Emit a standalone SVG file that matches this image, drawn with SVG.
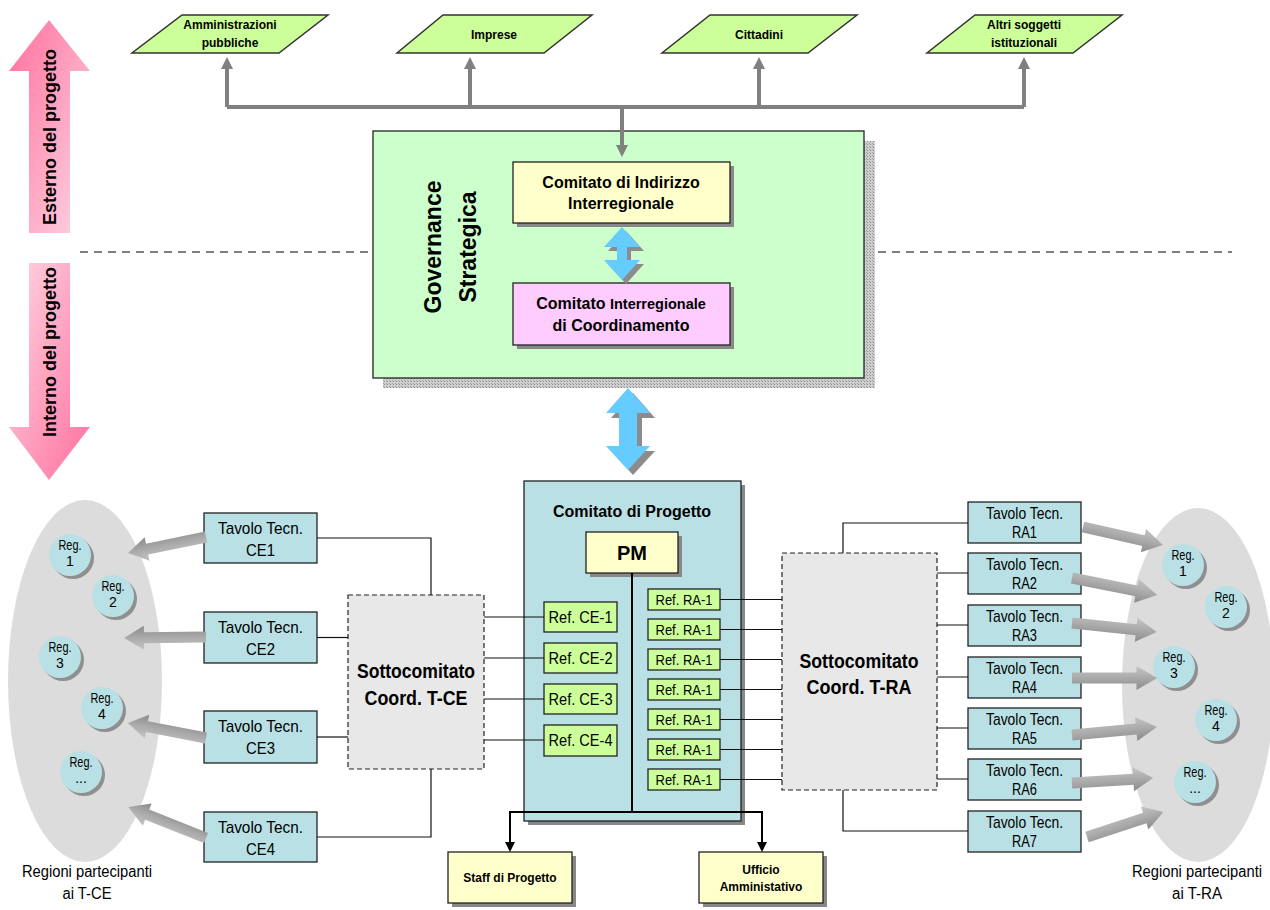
<svg xmlns="http://www.w3.org/2000/svg" width="1270" height="910" viewBox="0 0 1270 910">
<style>
text{font-family:"Liberation Sans",Arial,sans-serif;fill:#000}
.b{font-weight:bold}
.para{fill:#ccff99;stroke:#333;stroke-width:1.5}
.shadow{fill:#888}
.yel{fill:#ffffcc;stroke:#222;stroke-width:1.3}
.pink{fill:#ffccff;stroke:#222;stroke-width:1.3}
.teal{fill:#b9e0e4;stroke:#222;stroke-width:1.3}
.ref{fill:#ccff99;stroke:#222;stroke-width:1.3}
.sub{fill:#e8e8e8;stroke:#222;stroke-width:1.2;stroke-dasharray:5 3}
.ell{fill:#dcdcdc}
.reg{fill:#b9e0e4}
.regsh{fill:#8f8f8f}
.thin{fill:none;stroke:#111;stroke-width:1.2}
.blk{fill:none;stroke:#000;stroke-width:2}
.gray{fill:none;stroke:#808080;stroke-width:4}
.blue{fill:#66ccff}
.bsh{fill:#8c8c8c}
.fat{fill:url(#fatg)}
.tv{font-size:17px;text-anchor:middle}
.rg{font-size:14px;text-anchor:middle}
.lbl{font-size:16px;text-anchor:middle}
</style>
<defs>
<linearGradient id="pinkUp" x1="0" y1="0" x2="1" y2="1">
<stop offset="0" stop-color="#ff6f9c"/><stop offset="1" stop-color="#ffd6e4"/>
</linearGradient>
<linearGradient id="pinkDown" x1="0" y1="0" x2="1" y2="1">
<stop offset="0" stop-color="#ffd6e4"/><stop offset="1" stop-color="#ff6f9c"/>
</linearGradient>
<linearGradient id="fatg" x1="0" y1="0" x2="0" y2="1">
<stop offset="0" stop-color="#c4c4c4"/><stop offset="0.5" stop-color="#aaaaaa"/><stop offset="1" stop-color="#8a8a8a"/>
</linearGradient>
<pattern id="hatch" width="3" height="3" patternUnits="userSpaceOnUse">
<rect width="3" height="3" fill="#cfcfcf"/><rect width="1" height="1" fill="#8a8a8a"/><rect x="2" y="2" width="1" height="1" fill="#a0a0a0"/>
</pattern>
<marker id="gArrow" viewBox="0 0 12 12" refX="0" refY="6" markerWidth="12" markerHeight="12" markerUnits="userSpaceOnUse" orient="auto">
<path d="M0,0 L12,6 L0,12 Z" fill="#808080"/>
</marker>
<marker id="bArrow" viewBox="0 0 10 10" refX="0" refY="5" markerWidth="10" markerHeight="10" markerUnits="userSpaceOnUse" orient="auto">
<path d="M0,0 L10,5 L0,10 Z" fill="#000"/>
</marker>
<path id="fatArrow" d="M0,-5.5 L62,-5.5 L62,-12 L82,0 L62,12 L62,5.5 L0,5.5 Z"/>
</defs>

<!-- background -->
<line x1="80" y1="252" x2="1232" y2="252" stroke="#000" stroke-width="1" stroke-dasharray="8 6"/>

<g id="esterno">
<polygon points="49,20 90,71 70,71 70,233 29,233 29,71 9,71" fill="url(#pinkUp)"/>
<text class="b" font-size="18" text-anchor="middle" transform="translate(56,137) rotate(-90)">Esterno del progetto</text>
</g>
<g id="interno">
<polygon points="29,263 70,263 70,427 90,427 49,480 9,427 29,427" fill="url(#pinkDown)"/>
<text class="b" font-size="18" text-anchor="middle" transform="translate(56,352) rotate(-90)">Interno del progetto</text>
</g>

<!-- top parallelograms -->
<g id="amministrazioni">
<polygon class="para" points="182,15 328,15 279,53 132,53"/>
<text class="b" font-size="12" text-anchor="middle" x="230" y="29">Amministrazioni</text>
<text class="b" font-size="12" text-anchor="middle" x="230" y="47">pubbliche</text>
</g>
<g id="imprese">
<polygon class="para" points="443,15 592,15 544,53 397,53"/>
<text class="b" font-size="12" text-anchor="middle" x="494" y="39">Imprese</text>
</g>
<g id="cittadini">
<polygon class="para" points="710,15 857,15 808,53 662,53"/>
<text class="b" font-size="12" text-anchor="middle" x="759" y="39">Cittadini</text>
</g>
<g id="altri">
<polygon class="para" points="975,15 1122,15 1073,53 927,53"/>
<text class="b" font-size="12" text-anchor="middle" x="1024" y="29">Altri soggetti</text>
<text class="b" font-size="12" text-anchor="middle" x="1024" y="47">istituzionali</text>
</g>

<!-- governance -->
<g id="governance">
<rect x="383" y="141" width="492" height="247" fill="url(#hatch)"/>
<rect x="373" y="131" width="491" height="247" fill="#ccffcc" stroke="#222" stroke-width="1.3"/>
<text class="b" font-size="23" text-anchor="middle" transform="translate(441,247) rotate(-90)">Governance</text>
<text class="b" font-size="23" text-anchor="middle" transform="translate(476,247) rotate(-90)">Strategica</text>
</g>
<g id="indirizzo">
<rect class="shadow" x="517" y="166" width="217" height="61"/>
<rect class="yel" x="513" y="162" width="217" height="61"/>
<text class="b" font-size="16" text-anchor="middle" x="621" y="188">Comitato di Indirizzo</text>
<text class="b" font-size="16" text-anchor="middle" x="621" y="209">Interregionale</text>
</g>
<g id="coordinamento">
<rect class="shadow" x="517" y="287" width="217" height="62"/>
<rect class="pink" x="513" y="283" width="217" height="62"/>
<text class="b" font-size="16" text-anchor="middle" x="621" y="309">Comitato <tspan font-size="14.5">Interregionale</tspan></text>
<text class="b" font-size="16" text-anchor="middle" x="621" y="331">di Coordinamento</text>
</g>

<!-- ellipses -->
<g id="regioni-ce">
<ellipse class="ell" cx="85" cy="681" rx="77" ry="181"/>
<text class="lbl" x="87" y="877" textLength="130" lengthAdjust="spacingAndGlyphs">Regioni partecipanti</text>
<text class="lbl" x="87" y="899" textLength="49" lengthAdjust="spacingAndGlyphs">ai T-CE</text>
</g>
<g id="regioni-ra">
<ellipse class="ell" cx="1198" cy="685" rx="76" ry="177"/>
<text class="lbl" x="1197" y="877" textLength="130" lengthAdjust="spacingAndGlyphs">Regioni partecipanti</text>
<text class="lbl" x="1197" y="899" textLength="50" lengthAdjust="spacingAndGlyphs">ai T-RA</text>
</g>

<!-- region circles left -->
<g id="reg-ce-1"><circle class="regsh" cx="73" cy="558" r="21"/><circle class="reg" cx="70" cy="555" r="21"/><text class="rg" x="70" y="550" textLength="23" lengthAdjust="spacingAndGlyphs">Reg.</text><text class="rg" x="70" y="566">1</text></g>
<g id="reg-ce-2"><circle class="regsh" cx="116" cy="599" r="21"/><circle class="reg" cx="113" cy="596" r="21"/><text class="rg" x="113" y="591" textLength="23" lengthAdjust="spacingAndGlyphs">Reg.</text><text class="rg" x="113" y="607">2</text></g>
<g id="reg-ce-3"><circle class="regsh" cx="63" cy="660" r="21"/><circle class="reg" cx="60" cy="657" r="21"/><text class="rg" x="60" y="652" textLength="23" lengthAdjust="spacingAndGlyphs">Reg.</text><text class="rg" x="60" y="668">3</text></g>
<g id="reg-ce-4"><circle class="regsh" cx="105" cy="711" r="21"/><circle class="reg" cx="102" cy="708" r="21"/><text class="rg" x="102" y="703" textLength="23" lengthAdjust="spacingAndGlyphs">Reg.</text><text class="rg" x="102" y="719">4</text></g>
<g id="reg-ce-n"><circle class="regsh" cx="84" cy="775" r="21"/><circle class="reg" cx="81" cy="772" r="21"/><text class="rg" x="81" y="767" textLength="23" lengthAdjust="spacingAndGlyphs">Reg.</text><text class="rg" x="81" y="783">...</text></g>

<!-- region circles right -->
<g id="reg-ra-1"><circle class="regsh" cx="1186" cy="568" r="21"/><circle class="reg" cx="1183" cy="565" r="21"/><text class="rg" x="1183" y="560" textLength="23" lengthAdjust="spacingAndGlyphs">Reg.</text><text class="rg" x="1183" y="576">1</text></g>
<g id="reg-ra-2"><circle class="regsh" cx="1229" cy="610" r="21"/><circle class="reg" cx="1226" cy="607" r="21"/><text class="rg" x="1226" y="602" textLength="23" lengthAdjust="spacingAndGlyphs">Reg.</text><text class="rg" x="1226" y="618">2</text></g>
<g id="reg-ra-3"><circle class="regsh" cx="1177" cy="670" r="21"/><circle class="reg" cx="1174" cy="667" r="21"/><text class="rg" x="1174" y="662" textLength="23" lengthAdjust="spacingAndGlyphs">Reg.</text><text class="rg" x="1174" y="678">3</text></g>
<g id="reg-ra-4"><circle class="regsh" cx="1219" cy="723" r="21"/><circle class="reg" cx="1216" cy="720" r="21"/><text class="rg" x="1216" y="715" textLength="23" lengthAdjust="spacingAndGlyphs">Reg.</text><text class="rg" x="1216" y="731">4</text></g>
<g id="reg-ra-n"><circle class="regsh" cx="1198" cy="785" r="21"/><circle class="reg" cx="1195" cy="782" r="21"/><text class="rg" x="1195" y="777" textLength="23" lengthAdjust="spacingAndGlyphs">Reg.</text><text class="rg" x="1195" y="793">...</text></g>

<!-- Tavolo CE -->
<g id="tavolo-ce1"><rect class="teal" x="204" y="513" width="113" height="50"/><text class="tv" x="260.5" y="534" textLength="85" lengthAdjust="spacingAndGlyphs">Tavolo Tecn.</text><text class="tv" x="260.5" y="556" textLength="29" lengthAdjust="spacingAndGlyphs">CE1</text></g>
<g id="tavolo-ce2"><rect class="teal" x="204" y="612" width="113" height="51"/><text class="tv" x="260.5" y="633" textLength="85" lengthAdjust="spacingAndGlyphs">Tavolo Tecn.</text><text class="tv" x="260.5" y="655" textLength="29" lengthAdjust="spacingAndGlyphs">CE2</text></g>
<g id="tavolo-ce3"><rect class="teal" x="204" y="711" width="113" height="52"/><text class="tv" x="260.5" y="732" textLength="85" lengthAdjust="spacingAndGlyphs">Tavolo Tecn.</text><text class="tv" x="260.5" y="754" textLength="29" lengthAdjust="spacingAndGlyphs">CE3</text></g>
<g id="tavolo-ce4"><rect class="teal" x="204" y="812" width="113" height="50"/><text class="tv" x="260.5" y="833" textLength="85" lengthAdjust="spacingAndGlyphs">Tavolo Tecn.</text><text class="tv" x="260.5" y="855" textLength="29" lengthAdjust="spacingAndGlyphs">CE4</text></g>

<!-- Tavolo RA -->
<g id="tavolo-ra1"><rect class="teal" x="968" y="502" width="113" height="41"/><text class="tv" x="1024.5" y="519" textLength="77" lengthAdjust="spacingAndGlyphs">Tavolo Tecn.</text><text class="tv" x="1024.5" y="538" textLength="25" lengthAdjust="spacingAndGlyphs">RA1</text></g>
<g id="tavolo-ra2"><rect class="teal" x="968" y="553" width="113" height="41"/><text class="tv" x="1024.5" y="570" textLength="77" lengthAdjust="spacingAndGlyphs">Tavolo Tecn.</text><text class="tv" x="1024.5" y="589" textLength="25" lengthAdjust="spacingAndGlyphs">RA2</text></g>
<g id="tavolo-ra3"><rect class="teal" x="968" y="605" width="113" height="41"/><text class="tv" x="1024.5" y="622" textLength="77" lengthAdjust="spacingAndGlyphs">Tavolo Tecn.</text><text class="tv" x="1024.5" y="641" textLength="25" lengthAdjust="spacingAndGlyphs">RA3</text></g>
<g id="tavolo-ra4"><rect class="teal" x="968" y="657" width="113" height="41"/><text class="tv" x="1024.5" y="674" textLength="77" lengthAdjust="spacingAndGlyphs">Tavolo Tecn.</text><text class="tv" x="1024.5" y="693" textLength="25" lengthAdjust="spacingAndGlyphs">RA4</text></g>
<g id="tavolo-ra5"><rect class="teal" x="968" y="708" width="113" height="41"/><text class="tv" x="1024.5" y="725" textLength="77" lengthAdjust="spacingAndGlyphs">Tavolo Tecn.</text><text class="tv" x="1024.5" y="744" textLength="25" lengthAdjust="spacingAndGlyphs">RA5</text></g>
<g id="tavolo-ra6"><rect class="teal" x="968" y="759" width="113" height="41"/><text class="tv" x="1024.5" y="776" textLength="77" lengthAdjust="spacingAndGlyphs">Tavolo Tecn.</text><text class="tv" x="1024.5" y="795" textLength="25" lengthAdjust="spacingAndGlyphs">RA6</text></g>
<g id="tavolo-ra7"><rect class="teal" x="968" y="811" width="113" height="41"/><text class="tv" x="1024.5" y="828" textLength="77" lengthAdjust="spacingAndGlyphs">Tavolo Tecn.</text><text class="tv" x="1024.5" y="847" textLength="25" lengthAdjust="spacingAndGlyphs">RA7</text></g>

<!-- Sottocomitati -->
<g id="sotto-ce"><rect class="sub" x="348" y="595" width="136" height="174"/>
<text class="b" font-size="20" text-anchor="middle" x="416" y="678" textLength="118" lengthAdjust="spacingAndGlyphs">Sottocomitato</text>
<text class="b" font-size="20" text-anchor="middle" x="416" y="705" textLength="103" lengthAdjust="spacingAndGlyphs">Coord. T-CE</text></g>
<g id="sotto-ra"><rect class="sub" x="782" y="553" width="155" height="237"/>
<text class="b" font-size="20" text-anchor="middle" x="859" y="668" textLength="119" lengthAdjust="spacingAndGlyphs">Sottocomitato</text>
<text class="b" font-size="20" text-anchor="middle" x="859" y="694" textLength="105" lengthAdjust="spacingAndGlyphs">Coord. T-RA</text></g>

<!-- Comitato di Progetto -->
<g id="comitato-progetto">
<rect class="shadow" x="528" y="485" width="217" height="340"/>
<rect class="teal" x="524" y="481" width="217" height="340"/>
<text class="b" font-size="16" text-anchor="middle" x="632" y="517">Comitato di Progetto</text>
</g>
<g id="pm"><rect class="shadow" x="590" y="536" width="92" height="41"/><rect class="yel" x="586" y="532" width="92" height="41"/><text class="b" font-size="20" text-anchor="middle" x="632" y="560">PM</text></g>

<g id="ref-ce-1"><rect class="ref" x="544" y="602" width="73" height="30"/><text font-size="16" text-anchor="middle" x="580.5" y="623" textLength="64" lengthAdjust="spacingAndGlyphs">Ref. CE-1</text></g>
<g id="ref-ce-2"><rect class="ref" x="544" y="643" width="73" height="30"/><text font-size="16" text-anchor="middle" x="580.5" y="664" textLength="64" lengthAdjust="spacingAndGlyphs">Ref. CE-2</text></g>
<g id="ref-ce-3"><rect class="ref" x="544" y="684" width="73" height="30"/><text font-size="16" text-anchor="middle" x="580.5" y="705" textLength="64" lengthAdjust="spacingAndGlyphs">Ref. CE-3</text></g>
<g id="ref-ce-4"><rect class="ref" x="544" y="725" width="73" height="31"/><text font-size="16" text-anchor="middle" x="580.5" y="746" textLength="64" lengthAdjust="spacingAndGlyphs">Ref. CE-4</text></g>

<g id="ref-ra-a"><rect class="ref" x="648" y="589" width="72" height="21"/><text font-size="15" text-anchor="middle" x="684" y="605" textLength="57" lengthAdjust="spacingAndGlyphs">Ref. RA-1</text></g>
<g id="ref-ra-b"><rect class="ref" x="648" y="619" width="72" height="21"/><text font-size="15" text-anchor="middle" x="684" y="635" textLength="57" lengthAdjust="spacingAndGlyphs">Ref. RA-1</text></g>
<g id="ref-ra-c"><rect class="ref" x="648" y="649" width="72" height="21"/><text font-size="15" text-anchor="middle" x="684" y="665" textLength="57" lengthAdjust="spacingAndGlyphs">Ref. RA-1</text></g>
<g id="ref-ra-d"><rect class="ref" x="648" y="679" width="72" height="21"/><text font-size="15" text-anchor="middle" x="684" y="695" textLength="57" lengthAdjust="spacingAndGlyphs">Ref. RA-1</text></g>
<g id="ref-ra-e"><rect class="ref" x="648" y="709" width="72" height="21"/><text font-size="15" text-anchor="middle" x="684" y="725" textLength="57" lengthAdjust="spacingAndGlyphs">Ref. RA-1</text></g>
<g id="ref-ra-f"><rect class="ref" x="648" y="739" width="72" height="21"/><text font-size="15" text-anchor="middle" x="684" y="755" textLength="57" lengthAdjust="spacingAndGlyphs">Ref. RA-1</text></g>
<g id="ref-ra-g"><rect class="ref" x="648" y="769" width="72" height="21"/><text font-size="15" text-anchor="middle" x="684" y="785" textLength="57" lengthAdjust="spacingAndGlyphs">Ref. RA-1</text></g>

<g id="staff"><rect class="shadow" x="452" y="856" width="124" height="51"/><rect class="yel" x="448" y="852" width="124" height="51"/><text class="b" font-size="12" text-anchor="middle" x="510" y="882">Staff di Progetto</text></g>
<g id="ufficio"><rect class="shadow" x="703" y="856" width="124" height="51"/><rect class="yel" x="699" y="852" width="124" height="51"/><text class="b" font-size="12" text-anchor="middle" x="761" y="874">Ufficio</text><text class="b" font-size="12" text-anchor="middle" x="761" y="891">Amministativo</text></g>

<!-- connectors -->
<g id="connectors">
<path class="gray" d="M227,107 H1024"/>
<path class="gray" d="M227,107 V69" marker-end="url(#gArrow)"/>
<path class="gray" d="M470,107 V69" marker-end="url(#gArrow)"/>
<path class="gray" d="M759,107 V69" marker-end="url(#gArrow)"/>
<path class="gray" d="M1024,107 V69" marker-end="url(#gArrow)"/>
<path class="gray" d="M622,105 V145" marker-end="url(#gArrow)"/>

<!-- blue double arrows -->
<polygon class="bsh" transform="translate(4,4)" points="622,227 640,247 627,247 627,260 640,260 622,280 604,260 617,260 617,247 604,247"/>
<polygon class="blue" points="622,227 640,247 627,247 627,260 640,260 622,280 604,260 617,260 617,247 604,247"/>
<polygon class="bsh" transform="translate(5,5)" points="628,388 650,413 637,413 637,446 650,446 628,470 606,446 619,446 619,413 606,413"/>
<polygon class="blue" points="628,388 650,413 637,413 637,446 650,446 628,470 606,446 619,446 619,413 606,413"/>

<!-- thin lines -->
<path class="thin" d="M317,538 H431 V595"/>
<path class="thin" d="M317,637.5 H348"/>
<path class="thin" d="M317,737 H348"/>
<path class="thin" d="M317,837 H431 V769"/>
<path class="thin" d="M484,617 H544 M484,658 H544 M484,699 H544 M484,740 H544"/>
<path class="thin" d="M720,599.5 H782 M720,629.5 H782 M720,659.5 H782 M720,689.5 H782 M720,719.5 H782 M720,749.5 H782 M720,779.5 H782"/>
<path class="thin" d="M968,523 H843 V553"/>
<path class="thin" d="M937,573 H968 M937,625 H968 M937,677 H968 M937,728 H968 M937,779 H968"/>
<path class="thin" d="M968,831 H843 V790"/>

<!-- PM to staff/ufficio -->
<path class="blk" d="M632,573 V812 M509,812 H763"/>
<path class="blk" d="M510,811 V842" marker-end="url(#bArrow)"/>
<path class="blk" d="M762,811 V842" marker-end="url(#bArrow)"/>

<!-- fat gray arrows -->
<use href="#fatArrow" class="fat" transform="translate(206,537) rotate(168.4) scale(0.97,1)"/>
<use href="#fatArrow" class="fat" transform="translate(206,637) rotate(179.3)"/>
<use href="#fatArrow" class="fat" transform="translate(206,738) rotate(190.9) scale(0.97,1)"/>
<use href="#fatArrow" class="fat" transform="translate(206,838) rotate(201.7) scale(1.02,1)"/>
<use href="#fatArrow" class="fat" transform="translate(1083,527) rotate(12.7)"/>
<use href="#fatArrow" class="fat" transform="translate(1072,578) rotate(11.3) scale(1.06,1)"/>
<use href="#fatArrow" class="fat" transform="translate(1072,623) rotate(6.0) scale(1.04,1)"/>
<use href="#fatArrow" class="fat" transform="translate(1072,678) scale(1.04,1)"/>
<use href="#fatArrow" class="fat" transform="translate(1072,735) rotate(-5.4) scale(1.04,1)"/>
<use href="#fatArrow" class="fat" transform="translate(1072,783) rotate(-3.5) scale(0.99,1)"/>
<use href="#fatArrow" class="fat" transform="translate(1087,837) rotate(-18.2) scale(0.98,1)"/>
</g>
</svg>
